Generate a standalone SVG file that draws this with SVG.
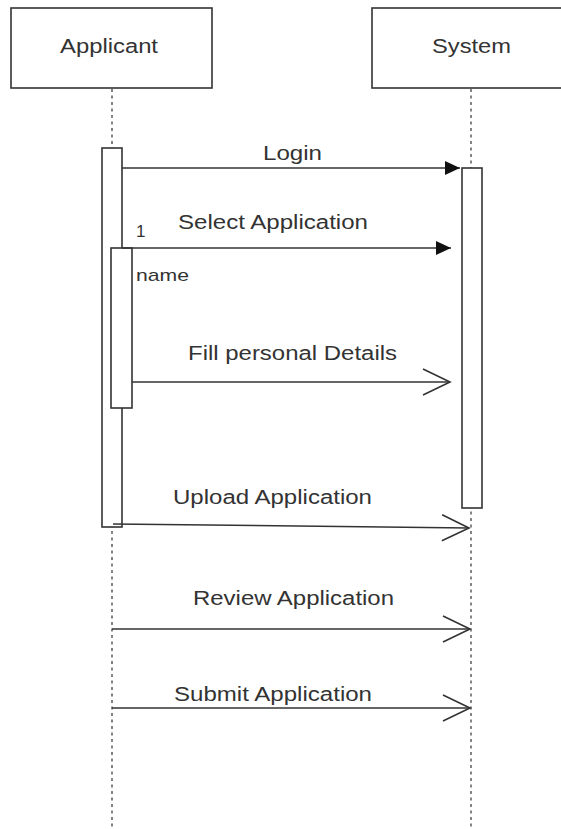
<svg xmlns="http://www.w3.org/2000/svg" width="561" height="829" viewBox="0 0 561 829">
<style>
.box{fill:#fff;stroke:#333;stroke-width:1.6}
.act{fill:#fff;stroke:#333;stroke-width:1.6}
.life{stroke:#666;stroke-width:1.6;stroke-dasharray:3 3.5;fill:none}
.msg{stroke:#333;stroke-width:1.5;fill:none}
.lbl{font-family:"Liberation Sans",Arial,sans-serif;font-size:20px;fill:#333}
.sm{font-family:"Liberation Sans",Arial,sans-serif;font-size:17px;fill:#333}
</style>
<defs>
<marker id="filled" viewBox="0 0 15 14" refX="15" refY="7" markerWidth="15" markerHeight="14" markerUnits="userSpaceOnUse" orient="auto">
<path d="M0,0 L15,7 L0,14 z" fill="#111"/>
</marker>
<marker id="open" viewBox="0 0 30 30" refX="28" refY="15" markerWidth="30" markerHeight="30" markerUnits="userSpaceOnUse" orient="auto">
<path d="M1,2 L28,15 L1,28" fill="none" stroke="#333" stroke-width="1.6"/>
</marker>
</defs>
<rect width="561" height="829" fill="#fff"/>
<g id="lifelines">
<line class="life" x1="112" y1="89" x2="112" y2="829"/>
<line class="life" x1="471" y1="89" x2="471" y2="829"/>
</g>
<g id="applicant">
<rect class="box" x="11" y="8" width="201" height="80"/>
<text class="lbl" x="60" y="53" textLength="98" lengthAdjust="spacingAndGlyphs">Applicant</text>
</g>
<g id="system">
<rect class="box" x="372" y="8" width="192" height="80"/>
<text class="lbl" x="432" y="53" textLength="79" lengthAdjust="spacingAndGlyphs">System</text>
</g>
<g id="applicant-activation">
<rect class="act" x="102" y="148" width="20" height="379"/>
</g>
<g id="applicant-inner-activation">
<rect class="act" x="111" y="248" width="21" height="160"/>
</g>
<g id="system-activation">
<rect class="act" x="462" y="168" width="20" height="340"/>
</g>
<g id="connectors">
<line class="msg" x1="122" y1="168" x2="460" y2="168" marker-end="url(#filled)"/>
<line class="msg" x1="122" y1="248" x2="451" y2="248" marker-end="url(#filled)"/>
<line class="msg" x1="132" y1="382" x2="450" y2="382" marker-end="url(#open)"/>
<line class="msg" x1="113" y1="524" x2="469" y2="528" marker-end="url(#open)"/>
<line class="msg" x1="112" y1="629" x2="470" y2="629" marker-end="url(#open)"/>
<line class="msg" x1="112" y1="708" x2="470" y2="708" marker-end="url(#open)"/>
</g>
<g id="labels">
<text class="lbl" x="263" y="160" textLength="59" lengthAdjust="spacingAndGlyphs">Login</text>
<text class="lbl" x="178" y="229" textLength="190" lengthAdjust="spacingAndGlyphs">Select Application</text>
<text class="sm" x="136" y="237">1</text>
<text class="sm" x="136" y="281" textLength="53" lengthAdjust="spacingAndGlyphs">name</text>
<text class="lbl" x="188" y="360" textLength="209" lengthAdjust="spacingAndGlyphs">Fill personal Details</text>
<text class="lbl" x="173" y="504" textLength="199" lengthAdjust="spacingAndGlyphs">Upload Application</text>
<text class="lbl" x="193" y="605" textLength="201" lengthAdjust="spacingAndGlyphs">Review Application</text>
<text class="lbl" x="174" y="701" textLength="198" lengthAdjust="spacingAndGlyphs">Submit Application</text>
</g>
</svg>
